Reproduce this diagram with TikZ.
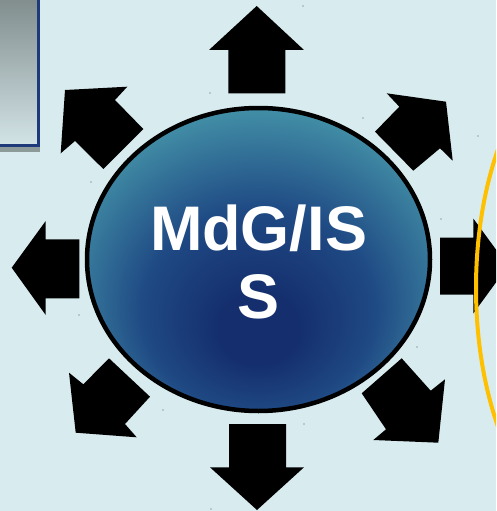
\documentclass[tikz,border=0pt]{standalone}
\usepackage{fontspec}
\newfontfamily\labelfont{Liberation Sans}
\definecolor{bgblue}{HTML}{D8ECEF}
\definecolor{framebl}{HTML}{1E3A7A}
\definecolor{boxtop}{HTML}{7F8B8B}
\definecolor{boxbot}{HTML}{D3E4E7}
\definecolor{boxshadow}{HTML}{8C9A9A}
\definecolor{navy}{HTML}{152F6E}
\definecolor{midblue}{HTML}{1F4A84}
\definecolor{tealc}{HTML}{4A9EAE}
\definecolor{ringgold}{HTML}{FFC000}
\definecolor{speck}{HTML}{555555}
% dark core low in the ellipse, fading to teal towards the rim
\pgfdeclareradialshading{hubshade}{\pgfpoint{0bp}{-13bp}}{%
  color(0bp)=(navy); color(6bp)=(navy); color(17bp)=(midblue); color(33bp)=(tealc); color(50bp)=(tealc)}
\tikzset{
  bigarrow/.style={fill=black, draw=none},
  hub/.style={draw=black, line width=4.5pt, shading=hubshade},
  speckdot/.style={fill=speck, draw=none}
}
\begin{document}
\begin{tikzpicture}[x=1pt,y=-1pt]
  \useasboundingbox (0,0) rectangle (496,511);
  \begin{scope}
    \clip (0,0) rectangle (496,511);
    \fill[bgblue] (0,0) rectangle (496,511);

    % panel in the upper left corner
    \fill[boxshadow] (-5,10) rectangle (40,152);
    \shade[top color=boxtop, bottom color=boxbot] (-5,-5) rectangle (38.5,145.5);
    \draw[framebl, line width=3pt] (-5,145.5) -- (38.5,145.5) -- (38.5,-5);

    % eight arrows round the hub
    \fill[bigarrow] (256.7,6) -- (304,50) -- (285.3,50) -- (285.3,93.3)
      -- (228.3,93.3) -- (228.3,50) -- (209,50) -- cycle;
    \fill[bigarrow] (257,510) -- (304,467.3) -- (286,467.3) -- (286,424)
      -- (229,424) -- (229,467.3) -- (210,467.3) -- cycle;
    \fill[bigarrow] (11.7,267.7) -- (45.7,221) -- (45.7,239.3) -- (79.3,239.3)
      -- (79.3,298.3) -- (45.7,298.3) -- (45.7,315) -- cycle;
    \fill[bigarrow] (508,266) -- (473.3,218.5) -- (473.3,237.5) -- (440,237.5)
      -- (440,294.5) -- (473.3,294.5) -- (473.3,313.5) -- cycle;
    \fill[bigarrow] (65,90) -- (127.3,86.7) -- (115,100) -- (143.3,129)
      -- (103.3,169) -- (75,141) -- (60.7,153.3) -- cycle;
    \fill[bigarrow] (446,101.7) -- (386.7,93.3) -- (399.3,106.7) -- (375,131.7)
      -- (413.3,170.7) -- (440,148.3) -- (452.7,160.7) -- cycle;
    \fill[bigarrow] (75.7,432.7) -- (69,372.7) -- (83.3,384.3) -- (109,358.3)
      -- (150,396.7) -- (125,424) -- (136.7,437.3) -- cycle;
    \fill[bigarrow] (438.3,442.7) -- (373.3,440) -- (386,429.3) -- (361.7,393.3)
      -- (401.7,358.3) -- (430.7,390.7) -- (445,379.3) -- cycle;

    % hub
    \path[hub] (258.5,259.5) ellipse [x radius=171.5pt, y radius=151.5pt];
    \node[text=white, font=\labelfont\bfseries\fontsize{63}{68}\selectfont,
          align=center, inner sep=0pt] (hubtext) at (258.5,262) {MdG/IS\\S};

    % ring on the right
    \draw[ringgold, line width=4pt] (596,288) ellipse [x radius=120pt, y radius=240pt];

    % small specks
    \foreach \p in {(303,6),(210,93),(304,424),(211,509),(79,315),(91,182),
                    (363,118),(478,136),(441,219),(417,347),(163,410)}
      \fill[speckdot] \p circle (0.7pt);
  \end{scope}
\end{tikzpicture}
\end{document}
